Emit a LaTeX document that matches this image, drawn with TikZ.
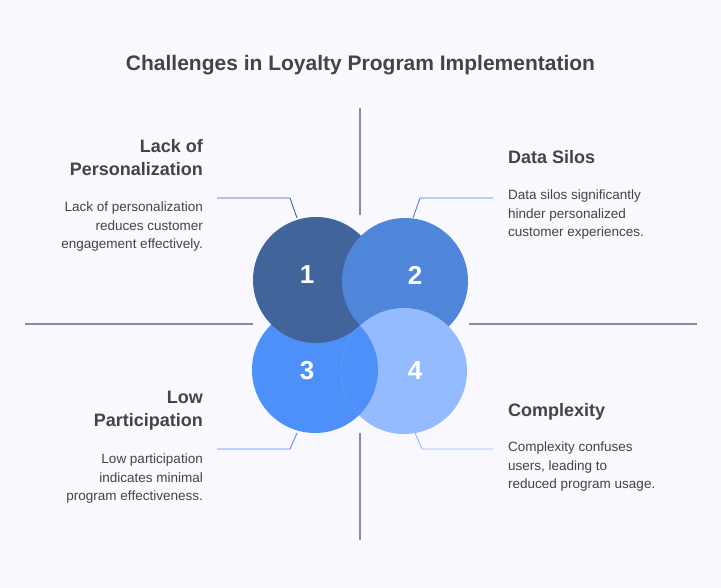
\documentclass[tikz,border=0pt]{standalone}
\usepackage{fontspec}
\setmainfont{Liberation Sans}
\definecolor{bg}{HTML}{F8F8FE}
\definecolor{txt}{HTML}{444444}
\definecolor{cA}{HTML}{41649B}
\definecolor{cB}{HTML}{4F86D9}
\definecolor{cC}{HTML}{4D90FA}
\definecolor{cD}{HTML}{94BBFD}
\definecolor{gl}{HTML}{8A8D99}
\begin{document}
\begin{tikzpicture}[x=1pt,y=-1pt,
  head/.style={font=\fontsize{18}{23}\selectfont\bfseries,text=txt,align=#1,inner sep=0},
  body/.style={font=\fontsize{13.5}{18.5}\selectfont,text=txt,align=#1,inner sep=0},
  num/.style={font=\fontsize{26}{30}\selectfont\bfseries,text=white},
  conn/.style={draw=#1,line width=0.9pt},
  cross/.style={draw=gl,line width=1.2pt}]
\fill[bg] (0,0) rectangle (721,588);
\useasboundingbox (0,0) rectangle (721,588);
\node[font=\fontsize{21}{25}\selectfont\bfseries,text=txt] (title) at (360.5,65) {Challenges in Loyalty Program Implementation};
% cross lines
\coordinate (v1) at (360,108); \coordinate (v2) at (360,215);
\coordinate (v3) at (360,433); \coordinate (v4) at (360,540);
\coordinate (h1) at (25,324); \coordinate (h2) at (253,324);
\coordinate (h3) at (469,324); \coordinate (h4) at (697,324);
\draw[cross] (v1)--(v2); \draw[cross] (v3)--(v4);
\draw[cross] (h1)--(h2); \draw[cross] (h3)--(h4);
% circles
\fill[cC] (315,370) circle (63);
\fill[cA] (316,280) circle (63);
\fill[cB] (405,281) circle (63);
\fill[cD] (404,371) circle (63);
\begin{scope}
\clip (404,371) circle (63);
\fill[cC] (315,370) circle (63);
\end{scope}
\node[num] (n1) at (307,275) {1};
\node[num] (n2) at (415,275) {2};
\node[num] (n3) at (307,371) {3};
\node[num] (n4) at (415,371) {4};
% connectors
\coordinate (a1) at (297,218); \coordinate (a2) at (290,198); \coordinate (a3) at (217,198);
\draw[conn=cA] (a1)--(a2)--(a3);
\coordinate (b1) at (413,218); \coordinate (b2) at (420,198); \coordinate (b3) at (493,198);
\draw[conn=cB] (b1)--(b2)--(b3);
\coordinate (c1) at (297,433); \coordinate (c2) at (290,449); \coordinate (c3) at (217,449);
\draw[conn=cC] (c1)--(c2)--(c3);
\coordinate (d1) at (415,433); \coordinate (d2) at (422,449); \coordinate (d3) at (493,449);
\draw[conn=cD] (d1)--(d2)--(d3);
% texts
\node[head=right,anchor=north east] (t1) at (203,139) {Lack of\\Personalization};
\node[body=right,anchor=north east] (p1) at (203,202) {Lack of personalization\\reduces customer\\engagement effectively.};
\node[head=left,anchor=north west] (t2) at (508,150) {Data Silos};
\node[body=left,anchor=north west] (p2) at (508,190) {Data silos significantly\\hinder personalized\\customer experiences.};
\node[head=right,anchor=north east] (t3) at (203,391) {Low\\Participation};
\node[body=right,anchor=north east] (p3) at (203,454) {Low participation\\indicates minimal\\program effectiveness.};
\node[head=left,anchor=north west] (t4) at (508,403) {Complexity};
\node[body=left,anchor=north west] (p4) at (508,442) {Complexity confuses\\users, leading to\\reduced program usage.};
\end{tikzpicture}
\end{document}
